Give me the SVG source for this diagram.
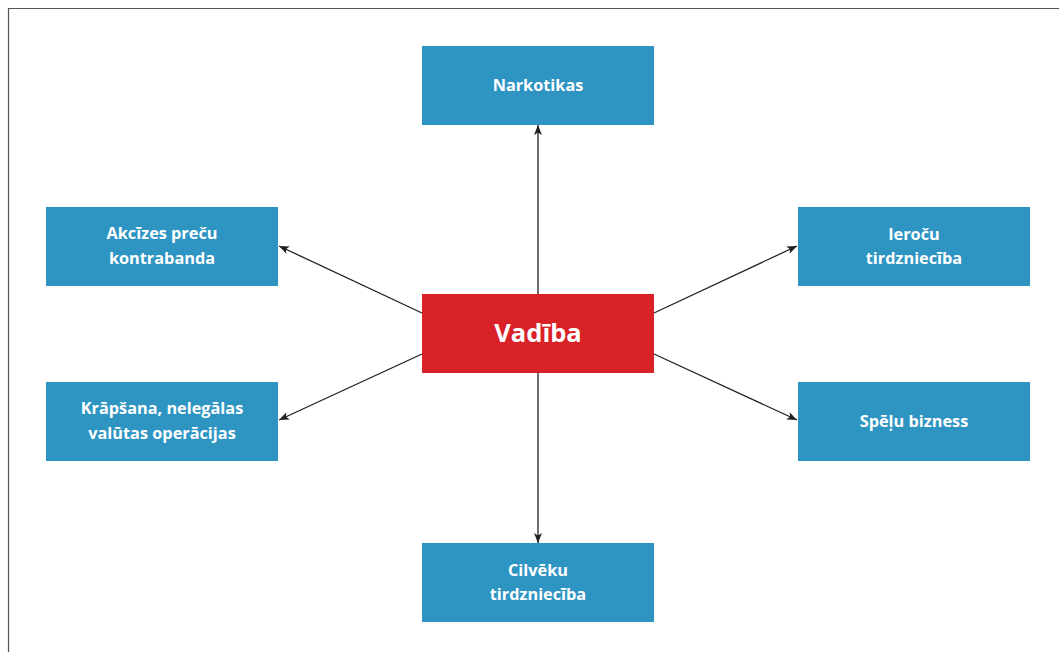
<svg xmlns="http://www.w3.org/2000/svg" width="1059" height="652" viewBox="0 0 1059 652">
<style>
.box{fill:#2E95C3}
.lbl{font-family:"Open Sans","Noto Sans","Liberation Sans",sans-serif;font-weight:700;font-size:16.3px;fill:#ffffff;text-anchor:middle}
.main{font-family:"Open Sans","Noto Sans","Liberation Sans",sans-serif;font-weight:700;font-size:25.5px;fill:#ffffff;text-anchor:middle}
.con{stroke:#231F20;stroke-width:1.3;fill:none;marker-end:url(#ah)}
</style>
<defs>
<marker id="ah" viewBox="0 0 10 8" refX="10" refY="4" markerWidth="10" markerHeight="8" markerUnits="userSpaceOnUse" orient="auto">
<path d="M0,0 L10,4 L0,8 L2.5,4 Z" fill="#231F20"/>
</marker>
</defs>
<rect x="0" y="0" width="1059" height="652" fill="#ffffff"/>
<path d="M8.5,652 L8.5,8.5 L1059,8.5" fill="none" stroke="#555555" stroke-width="1.2"/>
<g id="connectors">
<line class="con" x1="538" y1="294" x2="538" y2="125"/>
<line class="con" x1="538" y1="373" x2="538" y2="543"/>
<line class="con" x1="422" y1="313" x2="279" y2="246"/>
<line class="con" x1="422" y1="354" x2="279" y2="420"/>
<line class="con" x1="654" y1="313" x2="797" y2="246"/>
<line class="con" x1="654" y1="354" x2="797" y2="420"/>
</g>
<g id="vadiba">
<rect x="422" y="294" width="232" height="79" fill="#D92128"/>
<text class="main" x="538" y="342">Vadība</text>
</g>
<g id="narkotikas">
<rect class="box" x="422" y="46" width="232" height="79"/>
<text class="lbl" x="538" y="91">Narkotikas</text>
</g>
<g id="akcizes">
<rect class="box" x="46" y="207" width="232" height="79"/>
<text class="lbl" x="162" y="239">Akcīzes preču</text>
<text class="lbl" x="162" y="264">kontrabanda</text>
</g>
<g id="krapsana">
<rect class="box" x="46" y="382" width="232" height="79"/>
<text class="lbl" x="162" y="414">Krāpšana, nelegālas</text>
<text class="lbl" x="162" y="439">valūtas operācijas</text>
</g>
<g id="ierocu">
<rect class="box" x="798" y="207" width="232" height="79"/>
<text class="lbl" x="914" y="240">Ieroču</text>
<text class="lbl" x="914" y="264">tirdzniecība</text>
</g>
<g id="spelu">
<rect class="box" x="798" y="382" width="232" height="79"/>
<text class="lbl" x="914" y="427">Spēļu bizness</text>
</g>
<g id="cilveku">
<rect class="box" x="422" y="543" width="232" height="79"/>
<text class="lbl" x="538" y="576">Cilvēku</text>
<text class="lbl" x="538" y="600">tirdzniecība</text>
</g>
</svg>
